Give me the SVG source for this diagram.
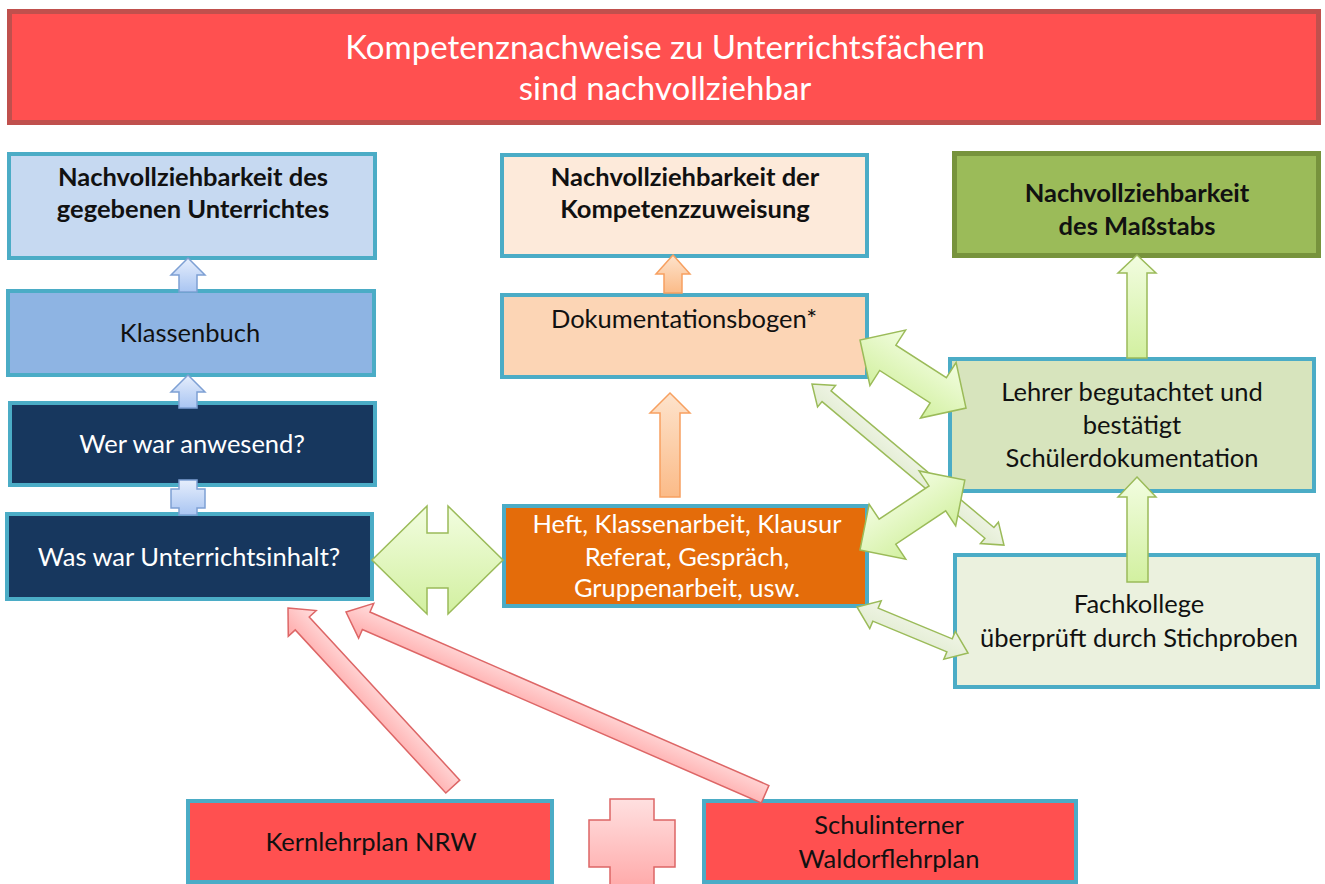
<svg xmlns="http://www.w3.org/2000/svg" width="1325" height="884" viewBox="0 0 1325 884">
<defs>
<style>
.t{font-family:Lato,"Liberation Sans",sans-serif;text-anchor:middle;fill:#111}
.w{fill:#fff}
.b{font-weight:bold;font-size:25.5px}
.r{font-size:25.5px}
.box{stroke:#4bacc6;stroke-width:4}
.g1{fill:url(#gGreen);stroke:#9bbb59;stroke-width:1.5}
.g2{fill:url(#gGreen2);stroke:#9bbb59;stroke-width:1.5}
.bl{fill:url(#gBlue);stroke:#7ea0d4;stroke-width:1.5}
.or{fill:url(#gOrange);stroke:#f7a060;stroke-width:1.5}
.rd{fill:url(#gRed);stroke:#d66;stroke-width:1.5}
</style>
<linearGradient id="gGreen" x1="0" y1="0" x2="0" y2="1"><stop offset="0" stop-color="#f2fde0"/><stop offset="1" stop-color="#d2f0a0"/></linearGradient>
<linearGradient id="gGreen2" x1="0" y1="0" x2="0" y2="1"><stop offset="0" stop-color="#f0f5e6"/><stop offset="1" stop-color="#e2ecd2"/></linearGradient>
<linearGradient id="gBlue" x1="0" y1="0" x2="0" y2="1"><stop offset="0" stop-color="#e6eefc"/><stop offset="1" stop-color="#a9c5f2"/></linearGradient>
<linearGradient id="gOrange" x1="0" y1="0" x2="0" y2="1"><stop offset="0" stop-color="#fde3cc"/><stop offset="1" stop-color="#fbbb88"/></linearGradient>
<linearGradient id="gRed" x1="0" y1="0" x2="0" y2="1"><stop offset="0" stop-color="#ffe0e0"/><stop offset="1" stop-color="#ffa8a8"/></linearGradient>
</defs>
<rect width="1325" height="884" fill="#fff"/>

<g id="title">
<rect x="9.5" y="11.5" width="1309" height="111" fill="#ff5050" stroke="#c0504d" stroke-width="5"/>
<text class="t w" x="665" y="59" font-size="33">Kompetenznachweise zu Unterrichtsfächern</text>
<text class="t w" x="665" y="100" font-size="33">sind nachvollziehbar</text>
</g>

<g id="n-unterricht">
<rect class="box" x="9" y="154" width="366" height="104" fill="#c6d9f1"/>
<text class="t b" x="193" y="186">Nachvollziehbarkeit des</text>
<text class="t b" x="193" y="218">gegebenen Unterrichtes</text>
</g>

<g id="n-klassenbuch">
<rect class="box" x="8" y="291" width="366" height="84" fill="#8eb4e3"/>
<text class="t r" x="190" y="342">Klassenbuch</text>
</g>

<g id="n-anwesend">
<rect class="box" x="10" y="403" width="365" height="82" fill="#17375e"/>
<text class="t w r" x="192" y="453" font-size="26">Wer war anwesend?</text>
</g>

<g id="n-inhalt">
<rect class="box" x="7" y="514" width="365" height="85" fill="#17375e"/>
<text class="t w r" x="189" y="566">Was war Unterrichtsinhalt?</text>
</g>

<g id="n-kompetenz">
<rect class="box" x="502" y="155" width="365" height="101" fill="#fdeada"/>
<text class="t b" x="685" y="186">Nachvollziehbarkeit der</text>
<text class="t b" x="685" y="218">Kompetenzzuweisung</text>
</g>

<g id="n-doku">
<rect class="box" x="502" y="295" width="365" height="82" fill="#fcd5b5"/>
<text class="t r" x="684" y="328">Dokumentationsbogen*</text>
</g>

<g id="n-heft">
<rect class="box" x="504" y="506" width="363" height="100" fill="#e46c0a"/>
<text class="t w r" x="687" y="533">Heft, Klassenarbeit, Klausur</text>
<text class="t w r" x="687" y="566">Referat, Gespräch,</text>
<text class="t w r" x="687" y="597">Gruppenarbeit, usw.</text>
</g>

<g id="n-massstab">
<rect x="954.5" y="153.5" width="364" height="102" fill="#9bbb59" stroke="#77933c" stroke-width="5"/>
<text class="t b" x="1137" y="202">Nachvollziehbarkeit</text>
<text class="t b" x="1137" y="235">des Maßstabs</text>
</g>

<g id="n-lehrer">
<rect class="box" x="950" y="359" width="364" height="132" fill="#d7e4bd"/>
<text class="t r" x="1132" y="401">Lehrer begutachtet und</text>
<text class="t r" x="1132" y="434">bestätigt</text>
<text class="t r" x="1132" y="467">Schülerdokumentation</text>
</g>

<g id="n-fachkollege">
<rect class="box" x="955" y="555" width="363" height="132" fill="#ebf1de"/>
<text class="t r" x="1139" y="613">Fachkollege</text>
<text class="t r" x="1139" y="647">überprüft durch Stichproben</text>
</g>

<g id="n-kernlehrplan">
<rect class="box" x="188" y="801" width="364" height="81" fill="#ff5050"/>
<text class="t r" x="371" y="851">Kernlehrplan NRW</text>
</g>

<g id="n-waldorf">
<rect class="box" x="704" y="801" width="372" height="81" fill="#ff5050"/>
<text class="t r" x="889" y="834">Schulinterner</text>
<text class="t r" x="889" y="868">Waldorflehrplan</text>
</g>

<g id="connectors">
<path class="bl" d="M188,258 L205,275 L197,275 L197,292 L179,292 L179,275 L171,275 Z"/>
<path class="bl" d="M188,375 L205,392 L197,392 L197,408 L179,408 L179,392 L171,392 Z"/>
<path class="bl" d="M179,480 L197,480 L197,489 L205,489 L205,508 L197,508 L197,515 L179,515 L179,508 L171,508 L171,489 L179,489 Z"/>
<path class="g1" d="M372,560 L427,506 L427,533 L448,533 L448,506 L503,560 L448,614 L448,588 L427,588 L427,614 Z"/>
<path class="or" d="M673,255 L690,274 L682,274 L682,293 L664,293 L664,274 L656,274 Z"/>
<path class="or" d="M670,393 L690,413 L680,413 L680,497 L660,497 L660,413 L650,413 Z"/>
<path class="g1" d="M1137,255 L1156,273 L1147,273 L1147,358 L1127,358 L1127,273 L1118,273 Z"/>
<path class="g1" d="M1137,477 L1156,497 L1148,497 L1148,582 L1127,582 L1127,497 L1118,497 Z"/>
<path class="g2" transform="translate(812,384) rotate(40)" d="M0,0 L19,14 L19,7 L231.6,7 L231.6,14 L250.6,0 L231.6,-14 L231.6,-7 L19,-7 L19,-14 Z"/>
<path class="g2" transform="translate(857,607) rotate(22.5)" d="M0,0 L20,15 L20,7 L100.2,7 L100.2,15 L120.2,0 L100.2,-15 L100.2,-7 L20,-7 L20,-15 Z"/>
<path class="g1" transform="translate(860,340) rotate(32.7)" d="M0,0 L33,33 L33,15 L93,15 L93,33 L126,0 L93,-33 L93,-15 L33,-15 L33,-33 Z"/>
<path class="g1" transform="translate(860,550) rotate(-33.7)" d="M0,0 L33,33 L33,15 L93,15 L93,33 L126,0 L93,-33 L93,-15 L33,-15 L33,-33 Z"/>
<path class="rd" transform="translate(288,608) rotate(47.3)" d="M0,0 L21,-19 L21,-9.5 L243,-9.5 L243,9.5 L21,9.5 L21,19 Z"/>
<path class="rd" transform="translate(346,612) rotate(23.5)" d="M0,0 L22,-19 L22,-9.5 L457,-9.5 L457,9.5 L22,9.5 L22,19 Z"/>
<path class="rd" d="M610,799 L654,799 L654,820 L675,820 L675,867 L654,867 L654,890 L610,890 L610,867 L589,867 L589,820 L610,820 Z"/>
</g>
</svg>
